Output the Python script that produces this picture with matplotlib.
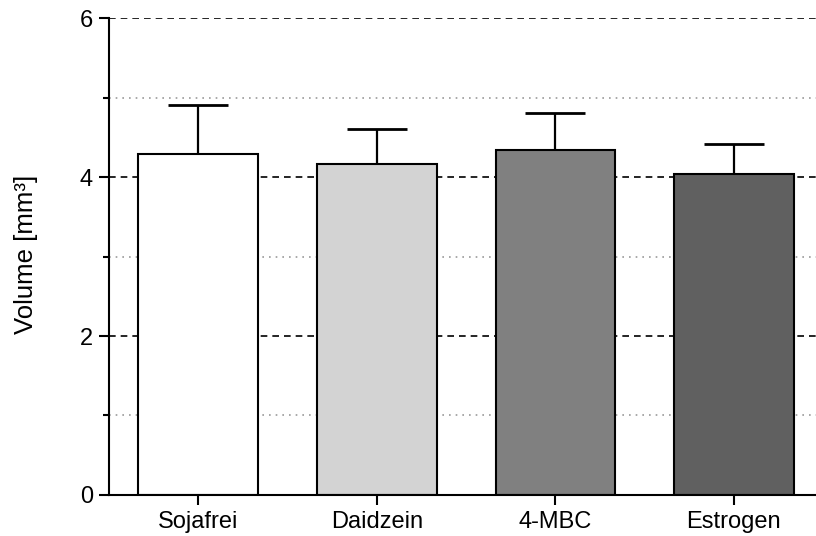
import matplotlib.pyplot as plt
import numpy as np

plt.rcParams['font.family'] = ['Liberation Sans', 'DejaVu Sans']

groups = ["Sojafrei", "Daidzein", "4-MBC", "Estrogen"]
means = [4.29, 4.16, 4.34, 4.04]
upper = [4.91, 4.61, 4.80, 4.42]
colors = ["#ffffff", "#d3d3d3", "#808080", "#606060"]

err = [u - m for u, m in zip(upper, means)]
x = np.arange(len(groups))

fig = plt.figure(figsize=(8.16, 5.36), dpi=100)
ax = fig.add_axes([0.1336, 0.0765, 0.8664, 0.8899])

for v in [2, 4, 6]:
    ax.axhline(v, color="black", linestyle=(0, (4, 3)), linewidth=1.2, zorder=0)
for v in [1, 3, 5]:
    ax.axhline(v, color="#999999", linestyle=(0, (1, 3)), linewidth=1.2, zorder=0)

ax.bar(x, means, width=0.67, color=colors, edgecolor="black", linewidth=1.5, zorder=2)
ax.errorbar(x, means, yerr=[np.zeros(len(err)), err], fmt="none", ecolor="black",
            elinewidth=1.6, capsize=21.5, capthick=2, zorder=1)

ax.set_xlim(-0.5, 3.46)
ax.set_ylim(0, 6)
ax.set_yticks([0, 2, 4, 6])
ax.set_yticks([1, 3, 5], minor=True)
ax.set_xticks(x)
ax.set_xticklabels(groups)
ax.tick_params(axis="both", which="major", length=7.5, width=1.5, labelsize=17,
               direction="out", pad=4)
ax.tick_params(axis="y", which="minor", length=4.5, width=1.5)
ax.set_ylabel("Volume [mm³]", fontsize=18.5)
ax.yaxis.set_label_coords(-0.10, 0.505)

ax.spines["top"].set_visible(False)
ax.spines["right"].set_visible(False)
ax.spines["left"].set_linewidth(1.5)
ax.spines["bottom"].set_linewidth(1.5)

fig.savefig("out.png", dpi=100)
